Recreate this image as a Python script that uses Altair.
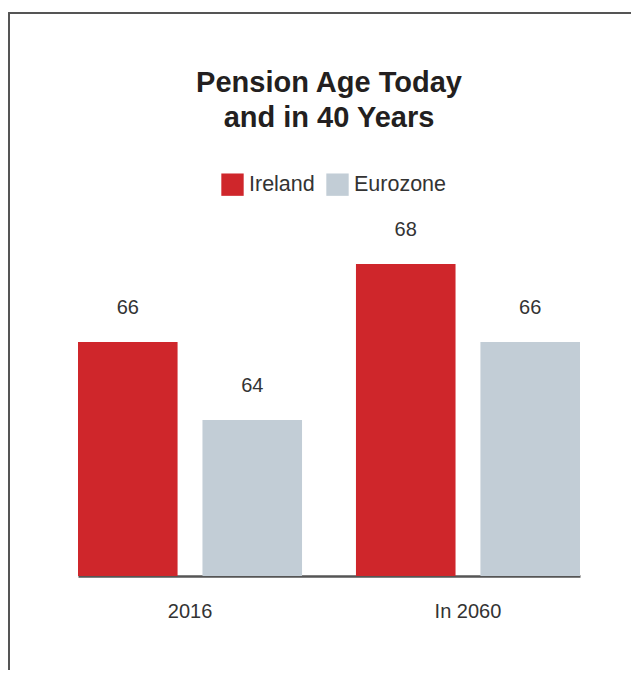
import altair as alt
import pandas as pd

periods = ["2016", "2016", "In 2060", "In 2060"]
regions = ["Ireland", "Eurozone", "Ireland", "Eurozone"]
ages = [66, 64, 68, 66]

df = pd.DataFrame({"period": periods, "region": regions, "age": ages})

region_order = ["Ireland", "Eurozone"]
region_colors = ["#CF262B", "#C2CDD6"]
FONT = "Liberation Sans"

x = alt.X("period:N", title=None,
          scale=alt.Scale(paddingInner=0.194, paddingOuter=0),
          axis=alt.Axis(labelAngle=0, labelFontSize=20, labelColor="#333333",
                        labelFont=FONT, labelPadding=25,
                        ticks=False, domainColor="#555555", domainWidth=2.5,
                        labelBaseline="top"))
xo = alt.XOffset("region:N", sort=region_order,
                 scale=alt.Scale(paddingInner=0.2, paddingOuter=0))
y = alt.Y("age:Q", scale=alt.Scale(domain=[60, 68], zero=False), axis=None)

base = alt.Chart(df)

bars = base.mark_bar().encode(
    x=x, xOffset=xo, y=y, y2=alt.datum(60),
    color=alt.Color("region:N", sort=region_order,
                    scale=alt.Scale(domain=region_order, range=region_colors),
                    legend=alt.Legend(title=None, orient="none", direction="horizontal",
                                      legendX=143, legendY=-91,
                                      symbolType="square", symbolSize=500,
                                      symbolStrokeWidth=0, symbolOpacity=1,
                                      labelFontSize=21.5, labelColor="#333333",
                                      labelFont=FONT,
                                      labelOffset=5, columnPadding=11)),
)

labels = base.mark_text(baseline="middle", dy=-34, fontSize=20,
                        font=FONT, color="#333333").encode(
    x=x, xOffset=xo, y=y, text="age:Q"
)

frame = base.mark_rect(fill=None, stroke="#555555", strokeWidth=1.5).encode(
    x=alt.value(-69), x2=alt.value(700), y=alt.value(-251), y2=alt.value(600)
)

chart = alt.layer(frame, bars, labels).properties(
    width=502, height=312,
    autosize=alt.AutoSizeParams(type="none"),
    padding={"left": 70, "top": 256, "right": 51, "bottom": 94},
    title=alt.TitleParams(["Pension Age Today", "and in 40 Years"],
                          fontSize=29, fontWeight="bold", font=FONT,
                          color="#231F20", anchor="middle", lineHeight=35,
                          offset=-121),
).configure_view(stroke=None)

chart.save("out.html", embed_options={"renderer": "svg", "actions": False})
